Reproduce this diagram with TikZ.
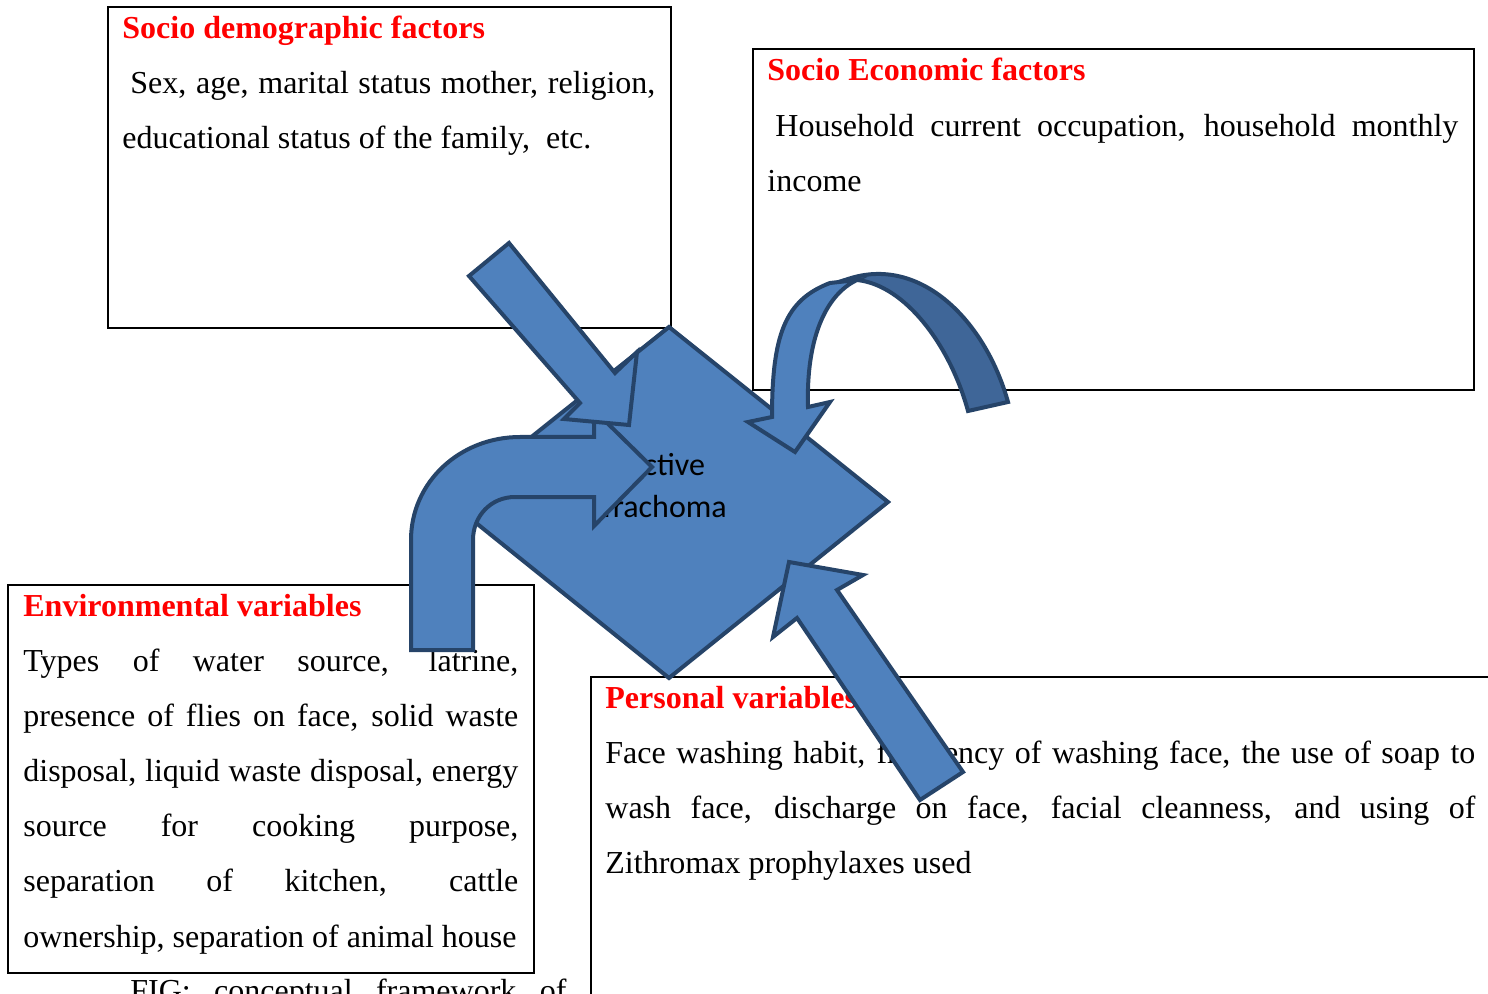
\documentclass[tikz,border=0pt]{standalone}
\usepackage{fontspec}
\setmainfont{Liberation Serif}
\newfontfamily\calib{Carlito}
\definecolor{ofblue}{HTML}{4F81BD}
\definecolor{ofdark}{HTML}{3F6698}
\definecolor{ofline}{HTML}{264469}
\tikzset{
 box/.style={draw=black, line width=1pt},
 ttl/.style={anchor=base west, inner sep=0pt, text=red, font=\fontsize{16}{20}\selectfont\bfseries},
 txt/.style={anchor=base west, inner sep=0pt, font=\fontsize{16}{20}\selectfont},
 dtxt/.style={anchor=base, inner sep=0pt, font=\calib\fontsize{16}{20}\selectfont},
 blueshape/.style={fill=ofblue, draw=ofline, line width=2pt, line join=miter},
 backshape/.style={fill=ofdark, draw=ofline, line width=2pt, line join=miter},
}
\begin{document}
\begin{tikzpicture}[x=0.5pt,y=-0.5pt]
\useasboundingbox (0,0) rectangle (1488,994);
% boxes
\draw[box] (108,7) rectangle (671,328);
\node[ttl] (t1) at (122,39) {Socio demographic factors};
\node[txt] (l11) at (130,94) {\makebox[262.5pt][s]{Sex, age, marital status mother, religion,}};
\node[txt] (l12) at (122,149) {educational status of the family,\ \ etc.};

\draw[box] (753,49) rectangle (1474,390);
\node[ttl] (t2) at (767,81) {Socio Economic factors};
\node[txt] (l21) at (775,137) {\makebox[341.5pt][s]{Household current occupation, household monthly}};
\node[txt] (l22) at (767,192) {income};

\draw[box] (8,585) rectangle (534,973);
\node[ttl] (t3) at (23,616) {Environmental variables};
\node[txt] (l31) at (23,671) {\makebox[247.5pt][s]{Types of water source, latrine,}};
\node[txt] (l32) at (23,726) {\makebox[247.5pt][s]{presence of flies on face, solid waste}};
\node[txt] (l33) at (23,781) {\makebox[247.5pt][s]{disposal, liquid waste disposal, energy}};
\node[txt] (l34) at (23,836) {\makebox[247.5pt][s]{source for cooking purpose,}};
\node[txt] (l35) at (23,891) {\makebox[247.5pt][s]{separation of kitchen, cattle}};
\node[txt] (l36) at (23,947) {ownership, separation of animal house};

\draw[box] (591,1010) -- (591,677) -- (1500,677);
\node[ttl] (t4) at (605,708) {Personal variables};
\node[txt] (l41) at (605,763) {\makebox[435pt][s]{Face washing habit, frequency of washing face, the use of soap to}};
\node[txt] (l42) at (605,818) {\makebox[435pt][s]{wash face, discharge on face, facial cleanness, and using of}};
\node[txt] (l43) at (605,873) {Zithromax prophylaxes used};

\node[txt] (cap) at (130,1001) {\makebox[218pt][s]{FIG: conceptual framework of}};

% diamond
\draw[blueshape] (669,327) -- (888,502) -- (669,678) -- (450,502) -- cycle;
\node[dtxt] (d1) at (665,475) {Active};
\node[dtxt] (d2) at (663,517) {Trachoma};

% bent arrow from environmental variables
\draw[blueshape] (411,650) -- (411,540) .. controls (411,482) and (460,437) .. (520,437)
  -- (594,437) -- (594,410) -- (652,467) -- (594,526) -- (594,497) -- (515,497)
  .. controls (491,497) and (473,516) .. (473,540) -- (473,650) -- cycle;

% arrow from socio demographic factors
\draw[blueshape] (469,276) -- (580,403) -- (564,419) -- (629,425) -- (637,352) -- (615,373) -- (509,243) -- cycle;

% curved arrow from socio economic factors
\draw[backshape] (848,279) .. controls (920,255) and (985,320) .. (1008,402) -- (968,411)
  .. controls (950,345) and (905,285) .. (857,280) -- cycle;
\draw[blueshape] (830,283) .. controls (785,300) and (772,335) .. (772,417) -- (748,422) -- (795,452)
  -- (830,402) -- (808,407) .. controls (806,340) and (825,295) .. (857,280) -- cycle;

% arrow from personal variables
\draw[blueshape] (920,800) -- (797,618) -- (773,637) -- (789,562) -- (863,575) -- (837,590) -- (963,772) -- cycle;
\end{tikzpicture}
\end{document}
